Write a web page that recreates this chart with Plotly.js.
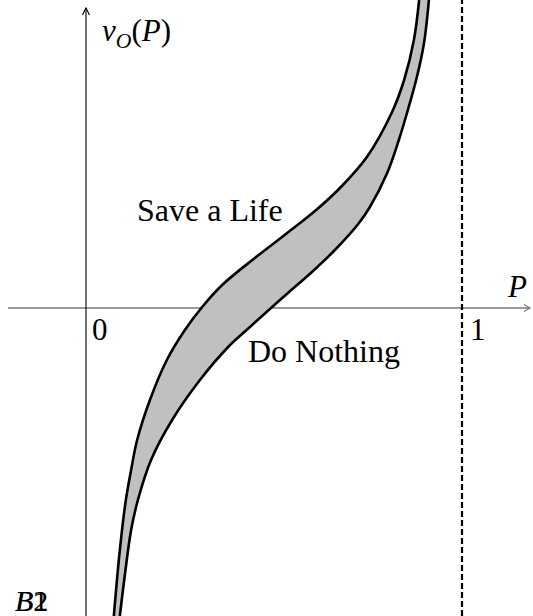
<!DOCTYPE html>
<html>
<head>
<meta charset="utf-8">
<script src="https://cdn.plot.ly/plotly-3.0.1.min.js"></script>
<style>
  html, body { margin: 0; padding: 0; background: #fff; }
  #chart { width: 533px; height: 616px; }
</style>
</head>
<body>
<div id="chart"></div>
<script>
// Left boundary of the indifference band (P against v_O)
const vLeft = [3.08, 2.68, 2.28, 1.96, 1.51, 1.21, 0.98, 0.75, 0.50, 0.23, 0.01, -0.22, -0.52, -0.92, -1.32, -1.62, -1.92, -2.42, -3.08];
const pLeft = [0.886, 0.872, 0.846, 0.814, 0.747, 0.678, 0.612, 0.535, 0.449, 0.362, 0.309, 0.263, 0.215, 0.170, 0.136, 0.120, 0.106, 0.090, 0.074];

// Right boundary of the band
const vRight = [3.08, 2.65, 2.31, 1.98, 1.68, 1.35, 1.01, 0.85, 0.58, 0.35, 0.15, 0.01, -0.19, -0.39, -0.72, -1.12, -1.52, -1.92, -2.22, -2.65, -3.08];
const pRight = [0.912, 0.899, 0.880, 0.856, 0.832, 0.801, 0.755, 0.726, 0.662, 0.598, 0.537, 0.495, 0.436, 0.378, 0.303, 0.229, 0.173, 0.138, 0.120, 0.104, 0.090];

// Axis extents
const xRange = [-0.2287, 1.1888];
const yRange = [-3.08, 3.08];
const xAxisStart = -0.2074;
const xAxisEnd = 1.181;
const yAxisEnd = 3.0;
const pMax = 1;

const serif = "Liberation Serif, Times New Roman, serif";

const traces = [
  {
    x: pLeft, y: vLeft, mode: "lines", type: "scatter",
    line: { color: "#000", width: 2.6, shape: "spline", smoothing: 1 },
    hoverinfo: "skip"
  },
  {
    x: pRight, y: vRight, mode: "lines", type: "scatter",
    line: { color: "#000", width: 2.6, shape: "spline", smoothing: 1 },
    fill: "tonextx", fillcolor: "#c0c0c0",
    hoverinfo: "skip"
  }
];

function txt(text, x, y, size) {
  return {
    text: text, xref: "paper", yref: "paper",
    x: x / 533, y: 1 - y / 616,
    xanchor: "center", yanchor: "middle",
    showarrow: false,
    font: { family: serif, size: size, color: "#000" }
  };
}

const layout = {
  width: 533, height: 616,
  margin: { l: 0, r: 0, t: 0, b: 0 },
  paper_bgcolor: "#fff", plot_bgcolor: "#fff",
  showlegend: false,
  xaxis: { range: xRange, visible: false, fixedrange: true },
  yaxis: { range: yRange, visible: false, fixedrange: true },
  shapes: [
    // horizontal axis
    { type: "line", xref: "x", yref: "y", x0: xAxisStart, x1: xAxisEnd, y0: 0, y1: 0,
      line: { color: "#777", width: 1.5 }, layer: "below" },
    { type: "path", xref: "x", yref: "y", xsizemode: "pixel", ysizemode: "pixel",
      xanchor: xAxisEnd, yanchor: 0, path: "M-6,3.5 L0,0 L-6,-3.5",
      line: { color: "#777", width: 1.1 }, layer: "below" },
    // vertical axis
    { type: "line", xref: "x", yref: "y", x0: 0, x1: 0, y0: yRange[0], y1: yAxisEnd,
      line: { color: "#000", width: 1.1 }, layer: "below" },
    { type: "path", xref: "x", yref: "y", xsizemode: "pixel", ysizemode: "pixel",
      xanchor: 0, yanchor: yAxisEnd, path: "M-3.5,-7 L0,0 L3.5,-7",
      line: { color: "#000", width: 1.1 }, layer: "below" },
    // P = 1 bound
    { type: "line", xref: "x", yref: "y", x0: pMax, x1: pMax, y0: yRange[0], y1: yRange[1],
      line: { color: "#000", width: 2.2, dash: "6px,3px" }, layer: "above" }
  ],
  annotations: [
    txt("<i>v</i><sub><i>O</i></sub>(<i>P</i>)", 136, 33, 31),
    txt("<i>P</i>", 517, 286, 31),
    txt("0", 100, 329, 31),
    txt("1", 478, 329, 31),
    txt("Save a Life", 210, 210, 32),
    txt("Do Nothing", 324, 351, 32),
    txt("<i>B</i>1", 31, 600, 30),
    txt("<i>B</i>2", 31, 600, 30)
  ]
};

Plotly.newPlot("chart", traces, layout, { staticPlot: true, displayModeBar: false });
</script>
</body>
</html>
